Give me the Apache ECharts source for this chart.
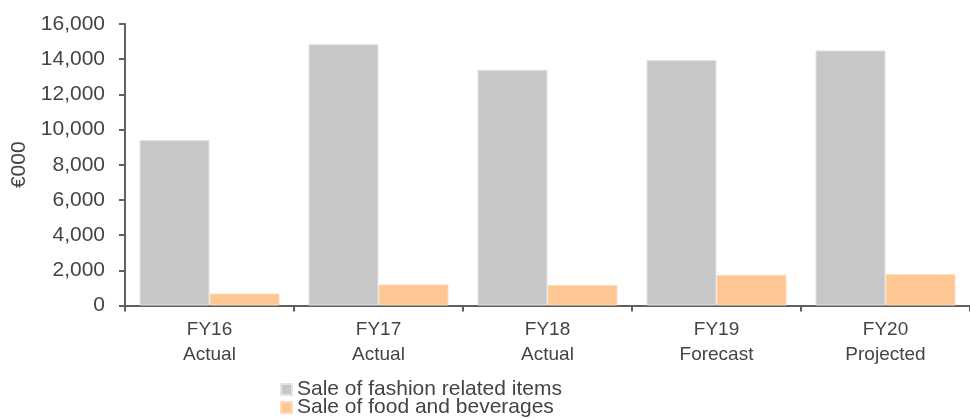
<!DOCTYPE html>
<html>
<head>
<meta charset="utf-8">
<script src="https://cdn.jsdelivr.net/npm/echarts@6/dist/echarts.min.js"></script>
<style>
html,body{margin:0;padding:0;background:#fff;}
#c{width:970px;height:419px;}
</style>
</head>
<body>
<div id="c"></div>
<script>
const categories = ['FY16\nActual', 'FY17\nActual', 'FY18\nActual', 'FY19\nForecast', 'FY20\nProjected'];
const fashionName = 'Sale of fashion related items';
const foodName = 'Sale of food and beverages';
const fashionValues = [9400, 14850, 13400, 13950, 14500];
const foodValues = [680, 1200, 1170, 1750, 1780];
const yTicks = [0, 2000, 4000, 6000, 8000, 10000, 12000, 14000, 16000];
const yAxisName = '€000';

const textColor = '#444444';
const axisColor = '#606060';
const font = 'Liberation Sans, Arial, sans-serif';

const legendBase = {
  orient: 'vertical',
  left: 280,
  itemWidth: 11,
  itemHeight: 11,
  icon: 'rect',
  padding: 0,
  textStyle: {fontFamily: font, fontSize: 21, color: textColor}
};

const chart = echarts.init(document.getElementById('c'), null, {renderer: 'canvas'});
chart.setOption({
  animation: false,
  backgroundColor: '#ffffff',
  grid: {left: 125, top: 24, width: 855, height: 281.5, containLabel: false},
  legend: [
    Object.assign({}, legendBase, {top: 379, data: [fashionName]}),
    Object.assign({}, legendBase, {top: 397, data: [foodName]})
  ],
  xAxis: {
    type: 'category',
    data: categories,
    axisLine: {lineStyle: {color: axisColor, width: 2}},
    axisTick: {show: true, length: 6, lineStyle: {color: axisColor, width: 2}, alignWithLabel: false},
    axisLabel: {
      fontFamily: font,
      fontSize: 19, lineHeight: 25, color: textColor, margin: 12, interval: 0
    }
  },
  yAxis: {
    type: 'value',
    min: yTicks[0],
    max: yTicks[yTicks.length - 1],
    interval: 2000,
    name: yAxisName,
    nameLocation: 'middle',
    nameGap: 91,
    nameTextStyle: {fontFamily: font, fontSize: 21, color: textColor},
    axisLine: {show: true, lineStyle: {color: axisColor, width: 2}},
    axisTick: {show: true, length: 6, lineStyle: {color: axisColor, width: 2}},
    splitLine: {show: false},
    axisLabel: {
      fontFamily: font, fontSize: 21, color: textColor, margin: 20,
      formatter: v => v.toLocaleString('en-US')
    }
  },
  series: [
    {
      name: fashionName, type: 'bar', data: fashionValues, barWidth: 70, barGap: '0%',
      itemStyle: {color: '#c6c7c9', borderColor: '#e2e3e4', borderWidth: 1}
    },
    {
      name: foodName, type: 'bar', data: foodValues, barWidth: 70, barGap: '0%',
      itemStyle: {color: '#fdc692', borderColor: '#fedcbb', borderWidth: 1}
    }
  ]
});
</script>
</body>
</html>
